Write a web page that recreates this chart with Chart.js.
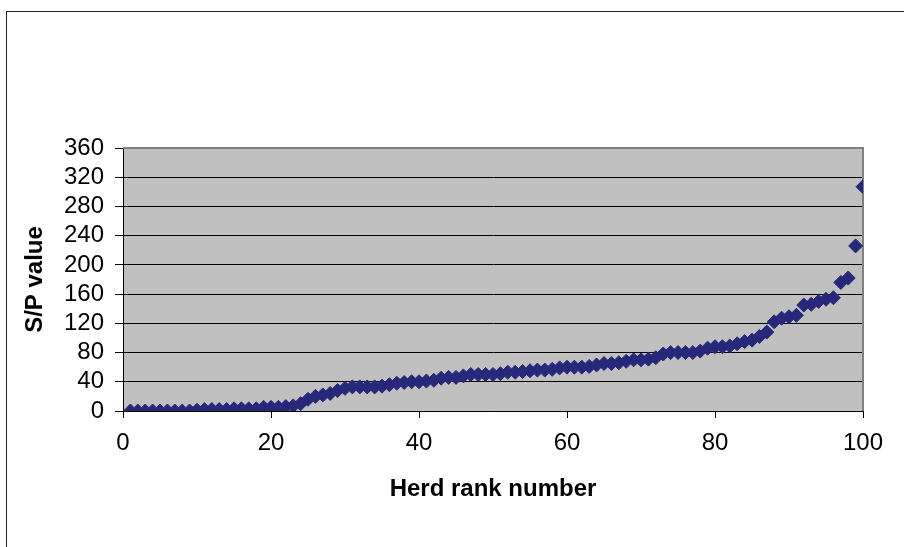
<!DOCTYPE html>
<html>
<head>
<meta charset="utf-8">
<script src="https://cdn.jsdelivr.net/npm/chart.js@4/dist/chart.umd.min.js"></script>
<style>
  html, body { margin: 0; padding: 0; background: #fff; overflow: hidden; }
  #frame { position: absolute; left: 6px; top: 11px; width: 1000px; height: 1000px;
           border-left: 1px solid #222; border-top: 1px solid #222; }
  #wrap { position: absolute; left: 0; top: 0; width: 904px; height: 547px; }
</style>
</head>
<body>
<div id="frame"></div>
<div id="wrap"><canvas id="spChart" width="904" height="547"></canvas></div>
<script>
// S/P value of each herd, ordered by herd rank (rank = position + 1)
const spValues = [
  0, 0, 0, 0, 0, 0, 0, 0, 0, 1,
  2, 2, 2, 2, 3, 3, 3, 3, 5, 5,
  5, 6, 7, 10, 16, 20, 22, 24, 28, 31,
  33, 33, 33, 33, 34, 36, 38, 39, 40, 40,
  41, 42, 45, 46, 46, 48, 50, 50, 50, 50,
  51, 53, 53, 54, 55, 56, 56, 57, 59, 60,
  60, 60, 61, 63, 65, 65, 66, 68, 70, 70,
  71, 73, 78, 80, 80, 80, 80, 82, 86, 88,
  88, 89, 92, 95, 97, 102, 108, 122, 127, 129,
  131, 145, 146, 150, 153, 155, 176, 182, 226, 307
];
const xTicks = [0, 20, 40, 60, 80, 100];
const yTicks = [0, 40, 80, 120, 160, 200, 240, 280, 320, 360];

const points = spValues.map((v, i) => ({x: i + 1, y: v}));

// grey plot area with a grey top/right edge, like the old spreadsheet look
const plotBg = {
  id: "plotBg",
  beforeDraw(chart) {
    const {ctx, chartArea: a} = chart;
    ctx.save();
    ctx.fillStyle = "#c0c0c0";
    ctx.fillRect(a.left, a.top, a.right - a.left, a.bottom - a.top);
    ctx.restore();
  },
  beforeDatasetsDraw(chart) {
    const {ctx, chartArea: a} = chart;
    ctx.save();
    ctx.strokeStyle = "#808080";
    ctx.lineWidth = 2;
    ctx.beginPath();
    ctx.moveTo(a.left, a.top);
    ctx.lineTo(a.right, a.top);
    ctx.lineTo(a.right, a.bottom);
    ctx.stroke();
    ctx.restore();
  }
};

const tickFont = {family: "'Liberation Sans', Arial, sans-serif", size: 24};
const titleFont = {family: "'Liberation Sans', Arial, sans-serif", size: 24, weight: "bold"};

new Chart(document.getElementById("spChart").getContext("2d"), {
  type: "scatter",
  data: {
    datasets: [{
      label: "S/P value",
      data: points,
      pointStyle: "rectRot",
      pointRadius: 7,
      pointHoverRadius: 7,
      backgroundColor: "#27287a",
      borderColor: "#27287a",
      borderWidth: 1
    }]
  },
  options: {
    responsive: false,
    animation: false,
    layout: {padding: {top: 148, right: 41, left: 0, bottom: 0}},
    plugins: {legend: {display: false}, tooltip: {enabled: false}},
    scales: {
      x: {
        type: "linear",
        min: 0, max: 100,
        afterBuildTicks: s => { s.ticks = xTicks.map(v => ({value: v})); },
        afterFit: s => { s.height = 136; },
        ticks: {font: tickFont, color: "#000", padding: 11, maxRotation: 0, autoSkip: false},
        grid: {drawOnChartArea: false, drawTicks: true, tickLength: 7, tickColor: "#000"},
        border: {color: "#000", width: 1},
        title: {display: true, text: "Herd rank number", font: titleFont, color: "#000",
                padding: {top: 0, bottom: 43}}
      },
      y: {
        min: 0, max: 360,
        afterBuildTicks: s => { s.ticks = yTicks.map(v => ({value: v})); },
        afterFit: s => { s.width = 123; },
        ticks: {font: tickFont, color: "#000", padding: 11, autoSkip: false},
        grid: {
          color: c => (c.tick && c.tick.value === 360) ? "rgba(0,0,0,0)" : "#000",
          tickColor: "#000",
          tickLength: 8,
          lineWidth: 1
        },
        border: {color: "#000", width: 1},
        title: {display: true, text: "S/P value", font: titleFont, color: "#000",
                padding: {top: 21, bottom: 0}}
      }
    }
  },
  plugins: [plotBg]
});
</script>
</body>
</html>
